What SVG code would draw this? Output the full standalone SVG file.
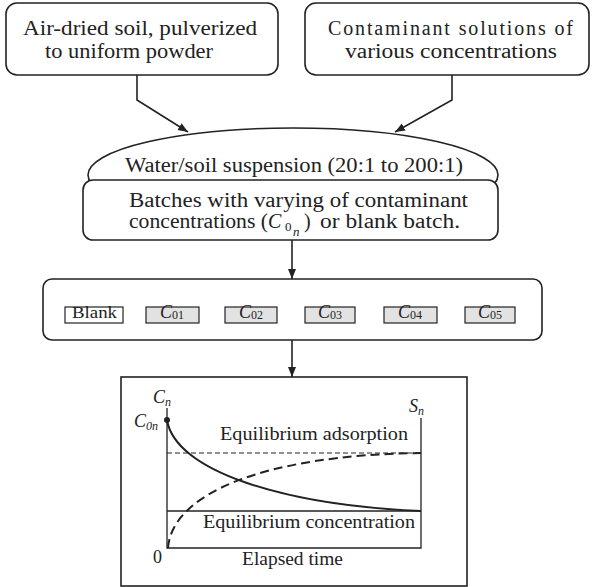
<svg xmlns="http://www.w3.org/2000/svg" width="592" height="587" viewBox="0 0 592 587" font-family="'Liberation Serif', 'DejaVu Serif', serif">
<style>
text{font-family:'Liberation Serif','DejaVu Serif',serif;fill:#222}
.box{fill:#fff;stroke:#222;stroke-width:1.6}
.sm{fill:#fff;stroke:#222;stroke-width:1.2}
.gr{fill:#e2e2e2;stroke:#222;stroke-width:1.2}
.ln{fill:none;stroke:#222;stroke-width:1.6}
.t20{font-size:20px}
.t18{font-size:18px}
.t17{font-size:17px}
.it{font-style:italic}
</style>
<defs>
<marker id="ah" viewBox="0 0 10 10" refX="10" refY="5" markerWidth="10" markerHeight="10" markerUnits="userSpaceOnUse" orient="auto">
<path d="M0,1 L10,5 L0,9 Z" fill="#222"/>
</marker>
</defs>
<g id="connectors">
<path class="ln" d="M137,75 V100 L188,132" marker-end="url(#ah)"/>
<path class="ln" d="M452,75 V100 L395,132" marker-end="url(#ah)"/>
<path class="ln" d="M292,240 V279" marker-end="url(#ah)"/>
<path class="ln" d="M292,340 V377" marker-end="url(#ah)"/>
</g>
<g id="soil">
<rect class="box" x="6" y="3" width="272" height="72" rx="11"/>
<text class="t20" x="23" y="35" textLength="234" lengthAdjust="spacingAndGlyphs">Air-dried soil, pulverized</text>
<text class="t20" x="45" y="58" textLength="168" lengthAdjust="spacingAndGlyphs">to uniform powder</text>
</g>
<g id="solutions">
<rect class="box" x="305" y="3" width="284" height="72" rx="11"/>
<text class="t20" x="328" y="35" textLength="245" lengthAdjust="spacing">Contaminant solutions of</text>
<text class="t20" x="345" y="58" textLength="212" lengthAdjust="spacingAndGlyphs">various concentrations</text>
</g>
<g id="suspension">
<ellipse class="box" cx="293" cy="175" rx="205" ry="47"/>
<text class="t20" x="125" y="172" textLength="338" lengthAdjust="spacingAndGlyphs">Water/soil suspension (20:1 to 200:1)</text>
</g>
<g id="batches">
<rect class="box" x="83" y="180" width="415" height="60" rx="10"/>
<text class="t20" x="129" y="207" textLength="339" lengthAdjust="spacingAndGlyphs">Batches with varying of contaminant</text>
<text class="t20" x="129" y="228" textLength="139" lengthAdjust="spacingAndGlyphs">concentrations (</text>
<text class="t20 it" x="268" y="228">C</text>
<text x="285" y="231" font-size="13">0</text>
<text class="it" x="293" y="236" font-size="13">n</text>
<text class="t20" x="304" y="228">)</text>
<text class="t20" x="320" y="228" textLength="140" lengthAdjust="spacingAndGlyphs">or blank batch.</text>
</g>
<g id="batchset">
<rect class="box" x="43" y="279" width="499" height="61" rx="9"/>
<rect class="sm" x="65" y="307" width="58" height="16"/>
<text class="t17" x="72" y="318" textLength="45" lengthAdjust="spacingAndGlyphs">Blank</text>
<rect class="gr" x="146" y="307" width="53" height="16"/>
<text class="t18" x="172" y="318" text-anchor="middle"><tspan class="it">C</tspan><tspan font-size="12" dy="1">01</tspan></text>
<rect class="gr" x="225" y="307" width="52" height="16"/>
<text class="t18" x="251" y="318" text-anchor="middle"><tspan class="it">C</tspan><tspan font-size="12" dy="1">02</tspan></text>
<rect class="gr" x="305" y="307" width="50" height="16"/>
<text class="t18" x="330" y="318" text-anchor="middle"><tspan class="it">C</tspan><tspan font-size="12" dy="1">03</tspan></text>
<rect class="gr" x="384" y="307" width="53" height="16"/>
<text class="t18" x="410" y="318" text-anchor="middle"><tspan class="it">C</tspan><tspan font-size="12" dy="1">04</tspan></text>
<rect class="gr" x="465" y="307" width="50" height="16"/>
<text class="t18" x="490" y="318" text-anchor="middle"><tspan class="it">C</tspan><tspan font-size="12" dy="1">05</tspan></text>
</g>
<g id="chart">
<rect class="box" x="121" y="377" width="346" height="209"/>
<path fill="none" stroke="#222" stroke-width="1.3" d="M167,408 V548 H421 V418"/>
<path fill="none" stroke="#222" stroke-width="1" stroke-dasharray="5,3" d="M167,453 H421"/>
<path fill="none" stroke="#222" stroke-width="1.3" d="M167,511 H421"/>
<path fill="none" stroke="#222" stroke-width="2" d="M167,420 C175,470 280,505 421,511"/>
<path fill="none" stroke="#222" stroke-width="2" stroke-dasharray="9,5" d="M168,548 C172,495 260,455 421,453"/>
<circle cx="167" cy="420" r="3" fill="#222"/>
<text class="t18 it" x="153" y="403">C<tspan font-size="12" dy="3">n</tspan></text>
<text class="t18 it" x="134" y="427">C<tspan font-size="12" dy="3">0n</tspan></text>
<text class="t18 it" x="409" y="412">S<tspan font-size="12" dy="3">n</tspan></text>
<text class="t18" x="220" y="440" textLength="188" lengthAdjust="spacingAndGlyphs">Equilibrium adsorption</text>
<text class="t18" x="203" y="528" textLength="212" lengthAdjust="spacingAndGlyphs">Equilibrium concentration</text>
<text class="t18" x="153" y="563">0</text>
<text class="t18" x="242" y="565" textLength="101" lengthAdjust="spacingAndGlyphs">Elapsed time</text>
</g>
</svg>
